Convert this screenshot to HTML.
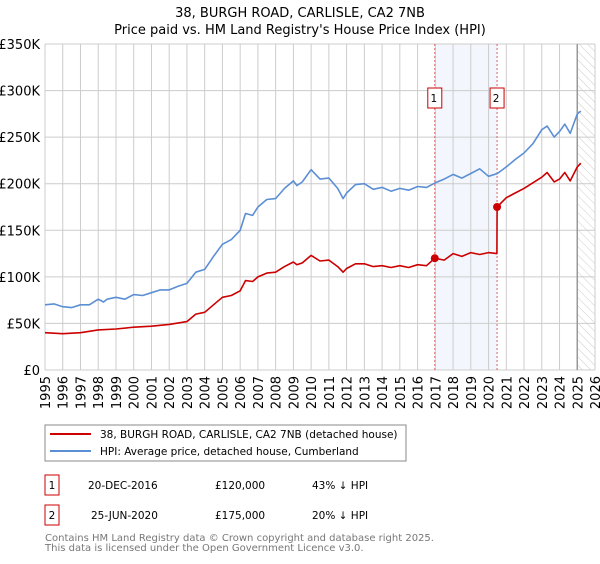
<!DOCTYPE html>
<html><head><meta charset="utf-8"><style>
body{margin:0;background:#fff;font-family:"DejaVu Sans","Liberation Sans",sans-serif;}
svg text{font-family:"DejaVu Sans","Liberation Sans",sans-serif;}
</style></head><body>
<svg id="c" width="600" height="560" xmlns="http://www.w3.org/2000/svg">
<defs><pattern id="hatch" width="6" height="6" patternUnits="userSpaceOnUse" patternTransform="rotate(-45)"><line x1="0" y1="0" x2="0" y2="6" stroke="#ccc" stroke-width="1"/></pattern></defs>
<text x="300" y="17" text-anchor="middle" font-size="13">38, BURGH ROAD, CARLISLE, CA2 7NB</text>
<text x="300" y="34" text-anchor="middle" font-size="13">Price paid vs. HM Land Registry's House Price Index (HPI)</text>
<g id="plot"></g>
<g>
<rect x="45" y="425" width="361" height="36" fill="#fff" stroke="#888"/>
<line x1="50" y1="434" x2="91" y2="434" stroke="#cc0000" stroke-width="2"/>
<text x="100" y="438" font-size="10.5">38, BURGH ROAD, CARLISLE, CA2 7NB (detached house)</text>
<line x1="50" y1="451" x2="91" y2="451" stroke="#5b8fd4" stroke-width="2"/>
<text x="100" y="455" font-size="10.5">HPI: Average price, detached house, Cumberland</text>
</g>
<g font-size="10.5">
<rect x="45" y="475" width="14" height="20" fill="none" stroke="#cc0000"/>
<text x="52" y="489" text-anchor="middle">1</text>
<text x="88" y="489">20-DEC-2016</text><text x="215" y="489">£120,000</text><text x="312" y="489">43% ↓ HPI</text>
<rect x="45" y="505" width="14" height="20" fill="none" stroke="#cc0000"/>
<text x="52" y="519" text-anchor="middle">2</text>
<text x="91" y="519">25-JUN-2020</text><text x="215" y="519">£175,000</text><text x="312" y="519">20% ↓ HPI</text>
</g>
<text x="45" y="541" font-size="10" fill="#777">Contains HM Land Registry data © Crown copyright and database right 2025.</text>
<text x="45" y="551" font-size="10" fill="#777">This data is licensed under the Open Government Licence v3.0.</text>
</svg>
<script>
const yTicks=[0,50,100,150,200,250,300,350];
const yTickLabels=["£0","£50K","£100K","£150K","£200K","£250K","£300K","£350K"];
const xYears=[1995,1996,1997,1998,1999,2000,2001,2002,2003,2004,2005,2006,2007,2008,2009,2010,2011,2012,2013,2014,2015,2016,2017,2018,2019,2020,2021,2022,2023,2024,2025,2026];
const hpiT=[1995,1995.5,1996,1996.5,1997,1997.5,1998,1998.3,1998.5,1999,1999.5,2000,2000.5,2001,2001.5,2002,2002.5,2003,2003.5,2004,2004.5,2005,2005.5,2006,2006.3,2006.7,2007,2007.5,2008,2008.5,2009,2009.2,2009.5,2010,2010.5,2011,2011.5,2011.8,2012,2012.5,2013,2013.5,2014,2014.5,2015,2015.5,2016,2016.5,2017,2017.5,2018,2018.5,2019,2019.5,2020,2020.5,2021,2021.5,2022,2022.5,2023,2023.3,2023.7,2024,2024.3,2024.6,2025,2025.2];
const hpiV=[70,71,68,67,70,70,76,73,76,78,76,81,80,83,86,86,90,93,105,108,122,135,140,150,168,166,175,183,184,195,203,198,202,215,205,206,195,184,190,199,200,194,196,192,195,193,197,196,201,205,210,206,211,216,208,211,218,226,233,243,258,262,250,256,264,254,275,278];
const redT=[1995,1996,1997,1998,1999,2000,2001,2002,2003,2003.5,2004,2004.5,2005,2005.5,2006,2006.3,2006.7,2007,2007.5,2008,2008.5,2009,2009.2,2009.5,2010,2010.5,2011,2011.5,2011.8,2012,2012.5,2013,2013.5,2014,2014.5,2015,2015.5,2016,2016.5,2016.97,2017.5,2018,2018.5,2019,2019.5,2020,2020.47,2020.48,2021,2021.5,2022,2023,2023.3,2023.7,2024,2024.3,2024.6,2025,2025.2];
const redV=[40,39,40,43,44,46,47,49,52,60,62,70,78,80,85,96,95,100,104,105,111,116,113,115,123,117,118,111,105,109,114,114,111,112,110,112,110,113,112,120,118,125,122,126,124,126,125,175,185,190,195,207,212,202,205,212,203,218,222];
const saleT=[2016.97,2020.48];
const saleV=[120,175];
const saleLabels=["1","2"];
const NS="http://www.w3.org/2000/svg";
const X0=45,X1=595,Y0=370,Y1=44;
const xs=t=>X0+(t-1995)/(2026-1995)*(X1-X0);
const ys=v=>Y0-v/350*(Y0-Y1);
const g=document.getElementById('plot');
function mk(tag,attrs){const e=document.createElementNS(NS,tag);for(const k in attrs)e.setAttribute(k,attrs[k]);g.appendChild(e);return e;}
let e=mk('rect',{x:xs(saleT[0]),y:Y1,width:xs(saleT[1])-xs(saleT[0]),height:Y0-Y1,fill:'#eef3fc',opacity:0.7});


e=mk('rect',{x:xs(2025),y:Y1,width:X1-xs(2025),height:Y0-Y1,fill:'url(#hatch)'});


yTicks.forEach((v,i)=>{
 e=mk('line',{x1:X0,x2:X1,y1:ys(v),y2:ys(v),stroke:'#ccc','stroke-width':1});
 
 
 e=mk('text',{x:X0-5,y:ys(v)+5,'text-anchor':'end','font-size':13});
 e.textContent=yTickLabels[i];
 
 
});
xYears.forEach(t=>{
 e=mk('line',{x1:xs(t),x2:xs(t),y1:Y1,y2:Y0,stroke:'#ccc','stroke-width':1});
 
 
 e=mk('text',{x:0,y:0,'text-anchor':'end','font-size':13,transform:`translate(${xs(t)+5},${Y0+6}) rotate(-90)`});
 e.textContent=t;
 
 
});
e=mk('line',{x1:xs(2025),x2:xs(2025),y1:Y1,y2:Y0,stroke:'#999','stroke-width':1.5});


saleT.forEach((t,i)=>{
 e=mk('line',{x1:xs(t),x2:xs(t),y1:Y1,y2:Y0,stroke:'#e06060','stroke-width':1,'stroke-dasharray':'2,2'});
 
 
});
function path(T,V,col,name){
 const d=T.map((t,i)=>(i?'L':'M')+xs(t).toFixed(1)+','+ys(V[i]).toFixed(1)).join('');
 e=mk('path',{d:d,fill:'none',stroke:col,'stroke-width':1.6,'stroke-linejoin':'round'});
 
 
}
path(hpiT,hpiV,'#5b8fd4','hpi-line');
path(redT,redV,'#cc0000','price-paid-line');
saleT.forEach((t,i)=>{
 e=mk('circle',{cx:xs(t),cy:ys(saleV[i]),r:4,fill:'#cc0000'});
 
 
 e=mk('rect',{x:xs(t)-7,y:88,width:14,height:20,fill:'#fff',stroke:'#cc0000'});
 
 
 e=mk('text',{x:xs(t)-1,y:102,'text-anchor':'middle','font-size':10.5});
 e.textContent=saleLabels[i];
 
 
});
</script>
</body></html>
